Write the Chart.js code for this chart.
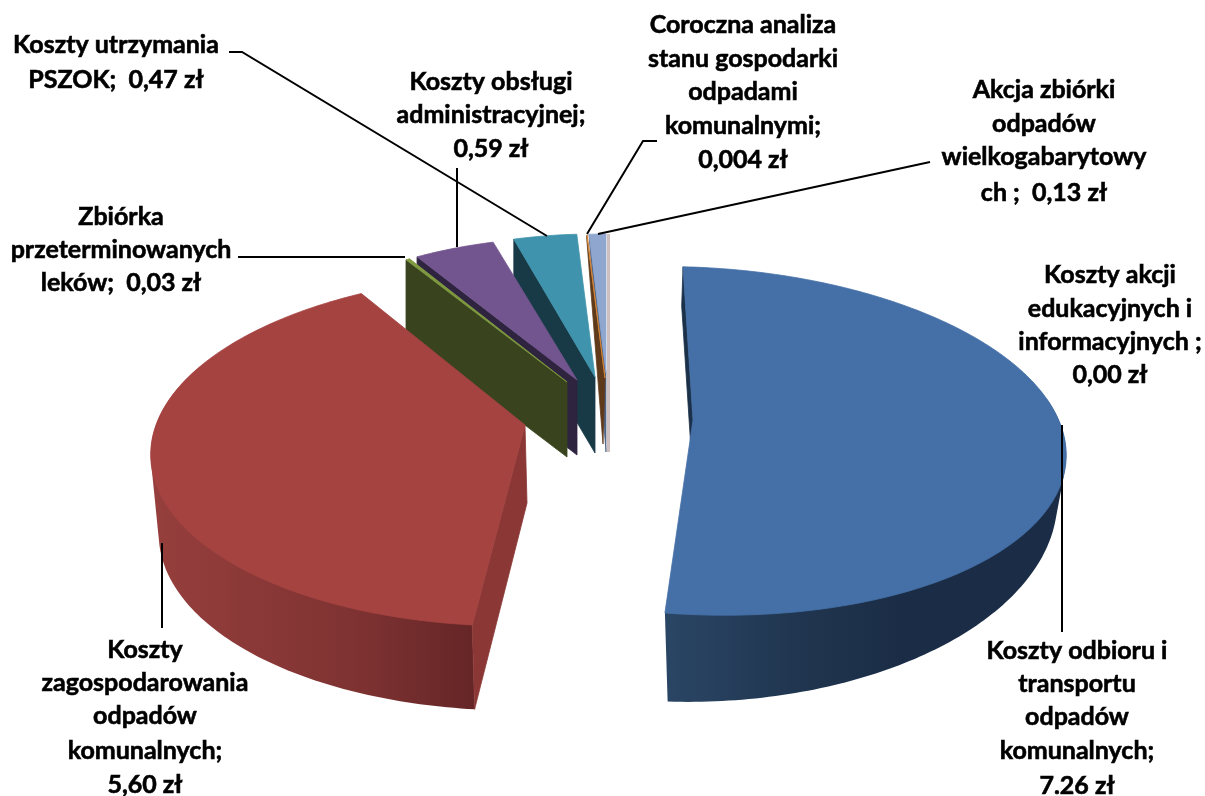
<!DOCTYPE html>
<html>
<head>
<meta charset="utf-8">
<title>Koszty</title>
<script src="https://cdn.jsdelivr.net/npm/chart.js@4"></script>
<style>
  html, body { margin: 0; padding: 0; background: #fff; }
  canvas { display: block; }
</style>
</head>
<body>
<canvas id="costChart" width="1205" height="796"></canvas>
<script>
// Data
const categories = [
    'Koszty odbioru i transportu odpadów komunalnych',
    'Koszty zagospodarowania odpadów komunalnych',
    'Zbiórka przeterminowanych leków',
    'Koszty obsługi administracyjnej',
    'Koszty utrzymania PSZOK',
    'Coroczna analiza stanu gospodarki odpadami komunalnymi',
    'Akcja zbiórki odpadów wielkogabarytowych',
    'Koszty akcji edukacyjnych i informacyjnych'
];
const values = [7.26, 5.60, 0.03, 0.59, 0.47, 0.004, 0.13, 0.00];
const labelLines = [
    ['Koszty odbioru i', 'transportu', 'odpadów', 'komunalnych;', '7.26 zł'],
    ['Koszty', 'zagospodarowania', 'odpadów', 'komunalnych;', '5,60 zł'],
    ['Zbiórka', 'przeterminowanych', 'leków;  0,03 zł'],
    ['Koszty obsługi', 'administracyjnej;', '0,59 zł'],
    ['Koszty utrzymania', 'PSZOK;  0,47 zł'],
    ['Coroczna analiza', 'stanu gospodarki', 'odpadami', 'komunalnymi;', '0,004 zł'],
    ['Akcja zbiórki', 'odpadów', 'wielkogabarytowy', 'ch ;  0,13 zł'],
    ['Koszty akcji', 'edukacyjnych i', 'informacyjnych ;', '0,00 zł']
];

// Layout of the text and leader lines, same order as categories
const labelPos = [
    { x: 1077, y: [651, 684, 717, 751, 786] },
    { x: 145, y: [650, 683, 716, 751, 785] },
    { x: 121, y: [217, 250, 283] },
    { x: 491, y: [82, 115, 149] },
    { x: 116, y: [45, 80] },
    { x: 743, y: [25, 59, 92, 126, 160] },
    { x: 1044, y: [90, 124, 157, 193] },
    { x: 1110, y: [275, 309, 342, 375] }
];
const leaders = [
    [[1062, 425], [1062, 632]],
    [[162, 543], [162, 628]],
    [[238, 257], [405, 257]],
    [[457, 168], [457, 247]],
    [[229, 52], [242, 52], [547, 236]],
    [[657, 141], [643, 141], [587, 234]],
    [[930, 162], [598, 234]]
];

// 3D look of each slice: top rim, lower rim and colours
function small(x, y, depth, sx) {
    return {
        k: 0,
        top: { x: x, y: y, sx: sx, sy: 143, shear: 0, tilt: 0 },
        low: { x: x, y: y + depth, sx: sx, sy: 143, shear: 0, tilt: 0 }
    };
}
const looks = [
    {
        k: 0.12,
        top: { x: 693, y: 420, sx: 369, sy: 171.6, shear: 0.065, tilt: 0.024 },
        low: { x: 693, y: 480, sx: 360, sy: 195, shear: 0.065, tilt: -0.03 },
        face: '#4570a7', side: '#1b3049',
        wall: [[664, '#2a4665'], [800, '#20354f'], [900, '#1b2d46'], [1065, '#1b2d46']],
        wallSpan: [-10, 120]
    },
    {
        k: 0.142,
        top: { x: 525, y: 425, sx: 369, sy: 172.5, shear: -0.055, tilt: 0 },
        low: { x: 527, y: 503, sx: 363, sy: 178, shear: -0.055, tilt: 0 },
        face: '#a54341', side: '#8a3735',
        wall: [[152, '#963f3d'], [363, '#7d3231'], [475, '#652527']],
        wallSpan: [80, 200]
    },
    Object.assign(small(567, 382, 75, 310), { face: '#7f9a3f', side: '#39441e' }),
    Object.assign(small(577, 380, 75, 315), { face: '#72558e', side: '#2f2440' }),
    Object.assign(small(595, 377, 76, 305), { face: '#3f93ac', side: '#183a47' }),
    {
        k: 0,
        top: { x: 605, y: 378, sx: 305, sy: 143, shear: 0, tilt: 0 },
        low: { x: 603, y: 444, sx: 271, sy: 205, shear: 0, tilt: 0 },
        face: '#d78838', side: '#5f3a1a'
    },
    {
        k: 0,
        top: { x: 606, y: 373, sx: 290, sy: 139, shear: 0, tilt: 0 },
        low: { x: 606, y: 452, sx: 290, sy: 215, shear: 0, tilt: 0 },
        face: '#8fa6cf', side: '#4f6384'
    },
    {
        k: 0,
        top: { x: 608.5, y: 373, sx: 290, sy: 139, shear: 0, tilt: 0 },
        low: { x: 608.5, y: 452, sx: 290, sy: 218, shear: 0, tilt: 0 },
        face: '#cfc0c0', side: '#cfc0c0', band: 3
    }
];
const drawOrder = [7, 6, 5, 4, 3, 2, 1, 0];

function project(look, rim, angle) {
    const p = look[rim];
    const u = Math.cos(angle);
    const v = Math.sin(angle);
    const w = 1 - look.k * v;
    const dx = p.sx * u / w;
    const dy = p.sy * v / w;
    return [p.x + dx + p.shear * dy, p.y + dy + p.tilt * dx];
}

function rimPoints(look, rim, a0, a1) {
    const pts = [];
    const n = Math.max(2, Math.ceil(Math.abs(a1 - a0) * 60));
    for (let i = 0; i <= n; i++) {
        pts.push(project(look, rim, a0 + (a1 - a0) * i / n));
    }
    return pts;
}

// outline of the wall, so its edge runs straight from the top rim to the lower rim
function convexHull(points) {
    const pts = points.slice().sort((a, b) => a[0] - b[0] || a[1] - b[1]);
    const cross = (o, a, b) => (a[0] - o[0]) * (b[1] - o[1]) - (a[1] - o[1]) * (b[0] - o[0]);
    const half = list => {
        const out = [];
        list.forEach(p => {
            while (out.length > 1 && cross(out[out.length - 2], out[out.length - 1], p) <= 0) out.pop();
            out.push(p);
        });
        out.pop();
        return out;
    };
    return half(pts).concat(half(pts.slice().reverse()));
}

function fillPoly(ctx, pts, fill, edge) {
    ctx.beginPath();
    pts.forEach((p, i) => i ? ctx.lineTo(p[0], p[1]) : ctx.moveTo(p[0], p[1]));
    ctx.closePath();
    ctx.fillStyle = fill;
    ctx.fill();
    if (edge) {
        ctx.strokeStyle = edge;
        ctx.lineWidth = 0.8;
        ctx.stroke();
    }
}

function drawSlice(ctx, arc, look) {
    const a0 = arc.startAngle;
    const a1 = arc.endAngle;

    // thin band with no real angle
    if (look.band) {
        const r = project(look, 'top', a1);
        ctx.beginPath();
        ctx.moveTo(r[0], r[1]);
        ctx.lineTo(look.low.x, look.low.y);
        ctx.strokeStyle = look.side;
        ctx.lineWidth = look.band;
        ctx.stroke();
        return;
    }

    // outer wall
    if (look.wall) {
        const first = look.wall[0][0];
        const span = look.wall[look.wall.length - 1][0] - first;
        const g = ctx.createLinearGradient(first, 0, first + span, 0);
        look.wall.forEach(s => g.addColorStop((s[0] - first) / span, s[1]));
        const from = Math.max(a0, look.wallSpan[0] * Math.PI / 180);
        const to = Math.min(a1, look.wallSpan[1] * Math.PI / 180);
        const wallPts = rimPoints(look, 'top', from, to).concat(rimPoints(look, 'low', from, to));
        fillPoly(ctx, convexHull(wallPts), g);
    }

    // cut side
    fillPoly(ctx, [
        project(look, 'top', a0),
        [look.top.x, look.top.y],
        [look.low.x, look.low.y],
        project(look, 'low', a0)
    ], look.side, look.side);

    // top face
    const top = rimPoints(look, 'top', a0, a1);
    top.push([look.top.x, look.top.y]);
    fillPoly(ctx, top, look.face, look.face);
}

const pie3d = {
    id: 'pie3d',
    beforeDatasetsDraw(chart) {
        const ctx = chart.ctx;
        const arcs = chart.getDatasetMeta(0).data;
        ctx.save();
        drawOrder.forEach(i => drawSlice(ctx, arcs[i], looks[i]));

        // leader lines
        ctx.strokeStyle = '#000';
        ctx.lineWidth = 2;
        leaders.forEach(line => {
            ctx.beginPath();
            line.forEach((p, i) => i ? ctx.lineTo(p[0], p[1]) : ctx.moveTo(p[0], p[1]));
            ctx.stroke();
        });

        // labels
        ctx.fillStyle = '#000';
        ctx.strokeStyle = '#000';
        ctx.lineWidth = 0.6;
        ctx.font = 'bold 25px Lato';
        ctx.textAlign = 'center';
        ctx.textBaseline = 'middle';
        labelLines.forEach((lines, i) => {
            lines.forEach((text, j) => {
                ctx.fillText(text, labelPos[i].x, labelPos[i].y[j]);
                ctx.strokeText(text, labelPos[i].x, labelPos[i].y[j]);
            });
        });
        ctx.restore();
        return false;
    }
};

new Chart(document.getElementById('costChart').getContext('2d'), {
    type: 'pie',
    data: {
        labels: categories,
        datasets: [{ data: values, backgroundColor: looks.map(l => l.face) }]
    },
    options: {
        responsive: false,
        animation: false,
        devicePixelRatio: 1,
        plugins: { legend: { display: false }, tooltip: { enabled: false } }
    },
    plugins: [pie3d]
});
</script>
</body>
</html>
